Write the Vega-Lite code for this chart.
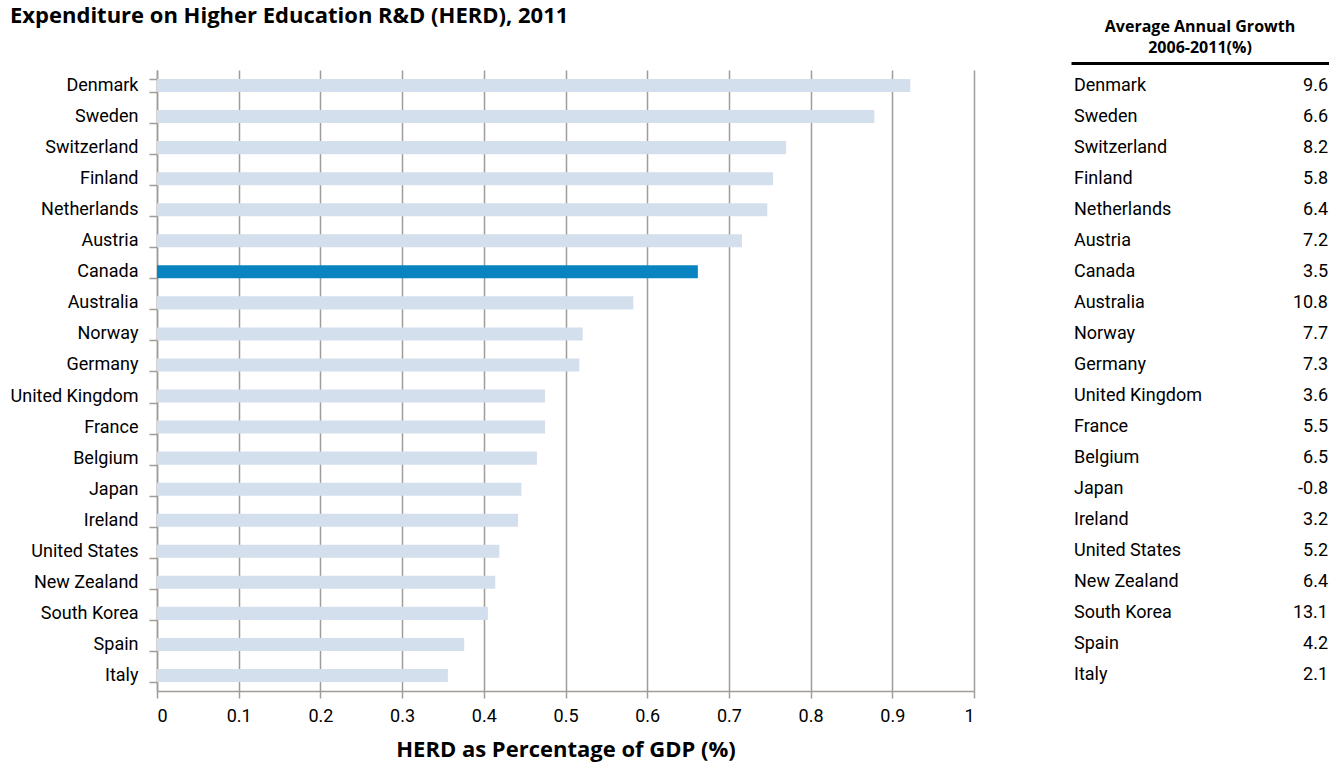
{
  "$schema": "https://vega.github.io/schema/vega-lite/v6.json",
  "background": "white",
  "padding": {"left": 10, "top": 5, "right": 0, "bottom": 2},
  "title": {
    "text": "Expenditure on Higher Education R&D (HERD), 2011",
    "anchor": "start",
    "fontSize": 22,
    "font": "Open Sans",
    "fontWeight": "bold",
    "color": "#000",
    "offset": -9
  },
  "config": {"view": {"stroke": null}, "font": "Roboto"},
  "data": {
    "values": [
      {"country": "Denmark", "herd": 0.922, "growth": 9.6},
      {"country": "Sweden", "herd": 0.878, "growth": 6.6},
      {"country": "Switzerland", "herd": 0.770, "growth": 8.2},
      {"country": "Finland", "herd": 0.754, "growth": 5.8},
      {"country": "Netherlands", "herd": 0.747, "growth": 6.4},
      {"country": "Austria", "herd": 0.716, "growth": 7.2},
      {"country": "Canada", "herd": 0.662, "growth": 3.5},
      {"country": "Australia", "herd": 0.583, "growth": 10.8},
      {"country": "Norway", "herd": 0.521, "growth": 7.7},
      {"country": "Germany", "herd": 0.517, "growth": 7.3},
      {"country": "United Kingdom", "herd": 0.475, "growth": 3.6},
      {"country": "France", "herd": 0.475, "growth": 5.5},
      {"country": "Belgium", "herd": 0.465, "growth": 6.5},
      {"country": "Japan", "herd": 0.446, "growth": -0.8},
      {"country": "Ireland", "herd": 0.442, "growth": 3.2},
      {"country": "United States", "herd": 0.419, "growth": 5.2},
      {"country": "New Zealand", "herd": 0.414, "growth": 6.4},
      {"country": "South Korea", "herd": 0.405, "growth": 13.1},
      {"country": "Spain", "herd": 0.376, "growth": 4.2},
      {"country": "Italy", "herd": 0.356, "growth": 2.1}
    ]
  },
  "spacing": 96,
  "hconcat": [
    {
      "width": 817,
      "height": 621,
      "mark": {"type": "bar"},
      "encoding": {
        "y": {
          "field": "country",
          "type": "nominal",
          "sort": null,
          "scale": {"paddingInner": 0.58, "paddingOuter": 0.29},
          "axis": {
            "title": null,
            "labelFontSize": 18,
            "labelColor": "#000",
            "tickBand": "extent",
            "tickSize": 8,
            "tickColor": "#a09c98",
            "tickWidth": 1.5,
            "domainColor": "#a09c98",
            "domainWidth": 1.5,
            "labelPadding": 11
          }
        },
        "x": {
          "field": "herd",
          "type": "quantitative",
          "scale": {"domain": [0, 1]},
          "axis": {
            "title": "HERD as Percentage of GDP (%)",
            "titleFont": "Open Sans",
            "titleFontSize": 22,
            "titleFontWeight": "bold",
            "titleColor": "#000",
            "titlePadding": 14,
            "labelFontSize": 18,
            "labelColor": "#000",
            "labelPadding": 9,
            "values": [0, 0.1, 0.2, 0.3, 0.4, 0.5, 0.6, 0.7, 0.8, 0.9, 1],
            "format": "~g",
            "grid": true,
            "gridColor": "#a09c98",
            "gridWidth": 1.5,
            "tickColor": "#a09c98",
            "tickWidth": 1.5,
            "tickSize": 7,
            "domainColor": "#a09c98",
            "domainWidth": 1.5
          }
        },
        "color": {
          "condition": {"test": "datum.country === 'Canada'", "value": "#0a84c1"},
          "value": "#d3dfed"
        }
      }
    },
    {
      "width": 258,
      "height": 621,
      "title": {
        "text": ["Average Annual Growth", "2006-2011(%)"],
        "font": "Open Sans",
        "fontSize": 16,
        "fontWeight": "bold",
        "anchor": "middle",
        "lineHeight": 21,
        "color": "#000",
        "offset": 7
      },
      "layer": [
        {
          "mark": {"type": "text", "align": "left", "baseline": "middle", "fontSize": 18, "dx": 3, "color": "#000"},
          "encoding": {
            "y": {"field": "country", "type": "nominal", "sort": null, "scale": {"paddingInner": 0.58, "paddingOuter": 0.29}, "axis": null},
            "x": {
              "datum": 0,
              "type": "quantitative",
              "scale": {"domain": [0, 1]},
              "axis": {"orient": "top", "title": null, "labels": false, "ticks": false, "grid": false, "domainColor": "#000", "domainWidth": 3, "offset": 7}
            },
            "text": {"field": "country"}
          }
        },
        {
          "mark": {"type": "text", "align": "right", "baseline": "middle", "fontSize": 18, "dx": -1, "color": "#000"},
          "encoding": {
            "y": {"field": "country", "type": "nominal", "sort": null},
            "x": {"datum": 1, "type": "quantitative"},
            "text": {"field": "growth", "type": "nominal"}
          }
        }
      ]
    }
  ]
}
